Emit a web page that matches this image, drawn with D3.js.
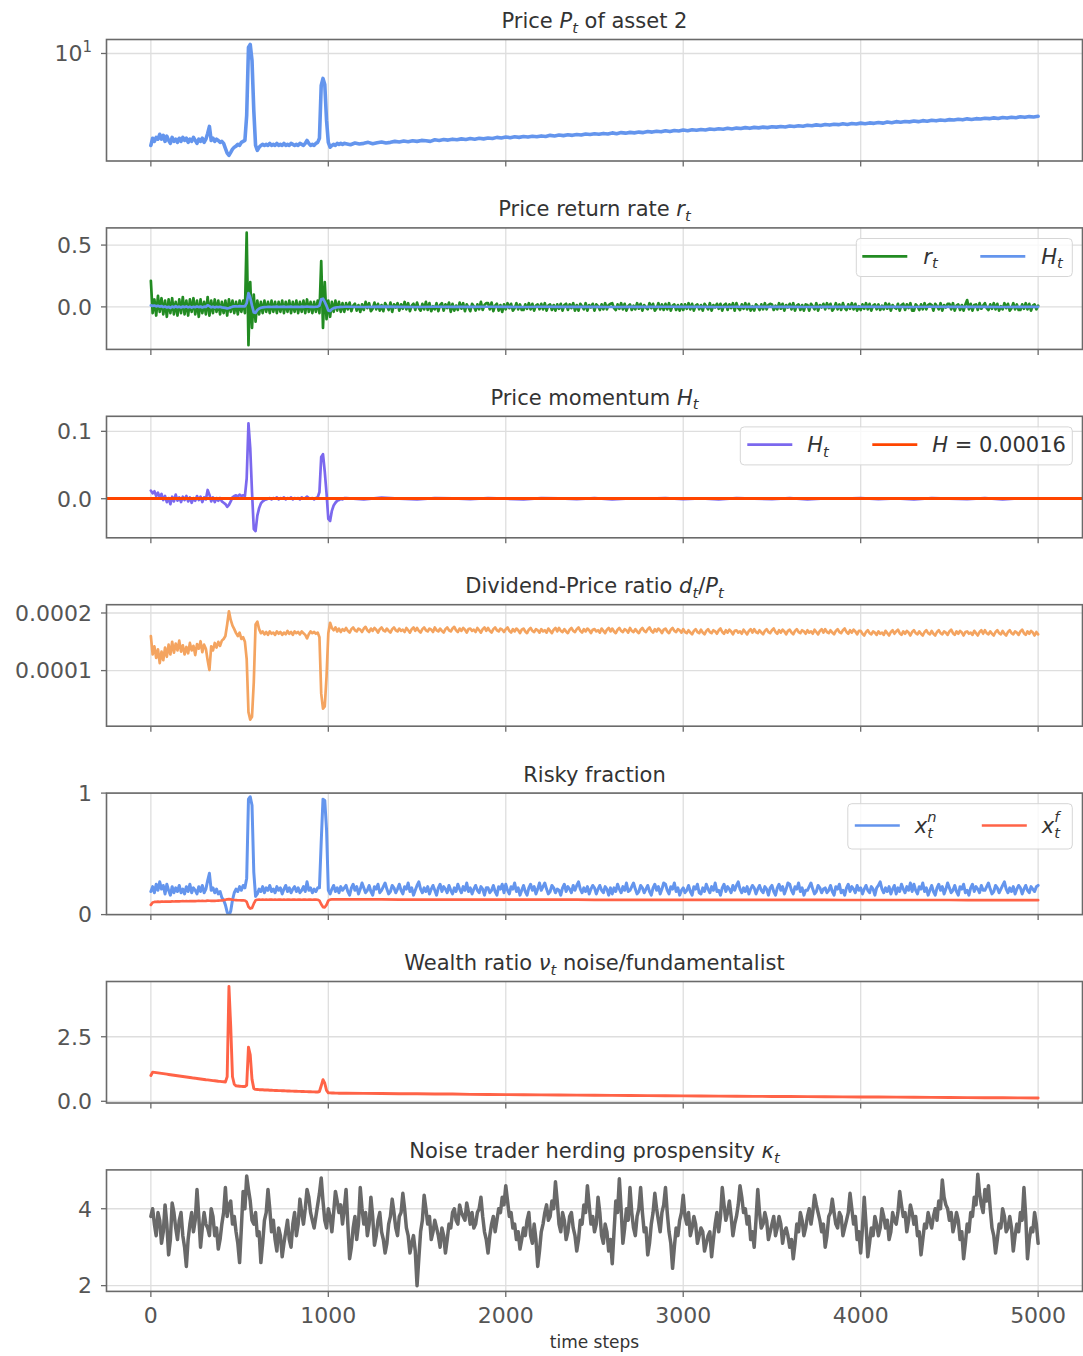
<!DOCTYPE html>
<html>
<head>
<meta charset="utf-8">
<script src="https://cdn.jsdelivr.net/npm/d3@7"></script>
<style>
  body { margin: 0; background: #fff; }
  svg text { font-family: "DejaVu Sans", sans-serif; }
</style>
</head>
<body>
<svg id="fig" width="1083" height="1356"></svg>
<script>
// ---- time grids -------------------------------------------------------
const earlySteps  = d3.range(0, 1100, 10);     // 0 .. 1090
const lateSteps   = d3.range(1100, 5001, 25);  // 1100 .. 5000
const denseSteps  = d3.range(1100, 5001, 10);  // 1100 .. 5000
const coarseSteps = d3.range(1100, 5001, 100); // 1100 .. 5000
const kappaSteps  = d3.range(0, 5001, 20);     // 0, 20, .. 5000
const kappaMidSteps = d3.range(10, 5000, 20);  // 10, 30, .. 4990
const xTickValues = [0, 1000, 2000, 3000, 4000, 5000];

// ---- price P_t of asset 2 --------------------------------------------
const priceEarly = [
  1.25,1.47,1.37,1.50,1.44,1.61,1.44,1.57,1.37,1.54,
  1.40,1.31,1.50,1.37,1.44,1.34,1.47,1.37,1.50,1.40,
  1.47,1.34,1.44,1.37,1.50,1.40,1.31,1.44,1.37,1.47,
  1.34,1.44,1.64,1.92,1.40,1.47,1.37,1.44,1.40,1.34,
  1.37,1.31,1.17,1.05,1.00,1.07,1.15,1.20,1.23,1.28,
  1.25,1.34,1.37,1.40,2.47,11.45,12.25,8.54,2.76,1.25,
  1.12,1.20,1.25,1.28,1.25,1.28,1.25,1.31,1.25,1.28,
  1.25,1.31,1.25,1.28,1.25,1.31,1.25,1.28,1.25,1.31,
  1.28,1.25,1.28,1.25,1.31,1.28,1.25,1.31,1.40,1.31,
  1.25,1.28,1.25,1.31,1.34,1.47,4.86,5.69,4.97,2.20,
  1.34,1.20,1.25,1.28,1.25,1.31,1.28,1.31,1.28,1.31
];
const priceLate = [
  1.30,1.27,1.32,1.29, 1.31,1.34,1.30,1.33, 1.35,1.32,1.34,1.37, 1.35,1.38,1.36,1.39,
  1.37,1.40,1.39,1.37, 1.42,1.40,1.43,1.41, 1.44,1.42,1.45,1.43, 1.46,1.44,1.47,1.45,
  1.48,1.46,1.50,1.48, 1.51,1.49,1.52,1.50, 1.53,1.51,1.54,1.52, 1.55,1.53,1.57,1.55,
  1.58,1.56,1.59,1.57, 1.60,1.58,1.62,1.60, 1.63,1.61,1.64,1.62, 1.66,1.63,1.67,1.65,
  1.68,1.66,1.69,1.67, 1.71,1.69,1.72,1.70, 1.74,1.71,1.75,1.73, 1.77,1.74,1.78,1.76,
  1.79,1.77,1.81,1.79, 1.82,1.80,1.84,1.81, 1.85,1.83,1.87,1.84, 1.88,1.86,1.89,1.87,
  1.91,1.89,1.92,1.90, 1.94,1.92,1.95,1.93, 1.97,1.95,1.99,1.96, 2.01,1.98,2.02,2.00,
  2.04,2.01,2.05,2.03, 2.07,2.04,2.08,2.06, 2.10,2.07,2.12,2.09, 2.14,2.11,2.15,2.13,
  2.17,2.14,2.19,2.16, 2.21,2.18,2.22,2.20, 2.24,2.22,2.26,2.23, 2.28,2.25,2.29,2.27,
  2.31,2.29,2.33,2.30, 2.35,2.32,2.36,2.34, 2.39,2.36,2.40,2.38, 2.42
];

// ---- price return rate r_t -------------------------------------------
const returnEarly = [
  0.21,-0.05,0.06,-0.07,0.09,-0.04,0.07,-0.06,0.05,-0.08,
  0.06,-0.05,0.07,-0.06,0.04,-0.07,0.06,-0.05,0.08,-0.06,
  0.05,-0.07,0.06,-0.04,0.07,-0.06,0.05,-0.08,0.06,-0.05,
  0.04,-0.06,0.08,-0.07,0.05,-0.05,0.06,-0.04,0.05,-0.06,
  0.04,-0.05,0.05,-0.07,0.06,-0.04,0.05,-0.05,0.04,-0.06,
  0.05,-0.04,0.05,-0.05,0.60,-0.31,0.20,-0.17,0.10,-0.12,
  0.05,-0.06,0.04,-0.05,0.05,-0.04,0.04,-0.05,0.05,-0.04,
  0.04,-0.05,0.04,-0.04,0.05,-0.05,0.04,-0.04,0.05,-0.05,
  0.04,-0.04,0.05,-0.05,0.04,-0.04,0.05,-0.05,0.06,-0.04,
  0.04,-0.05,0.04,-0.04,0.05,-0.05,0.37,-0.17,0.20,-0.10,
  0.05,-0.08,0.04,-0.04,0.05,-0.03,0.04,-0.04,0.03,-0.04
];
const returnLate = [
  0.03,-0.02,0.035,-0.035,0.01,0.025,-0.03,0.015,-0.04,0.02,
  -0.025,0.04,-0.01,0.03,-0.035,-0.015,0.035,-0.02,0.025,-0.03,
  0.015,-0.035,0.03,0.005,-0.025,0.035,-0.04,0.02,-0.005,0.03,
  -0.03,0.02,-0.015,0.04,-0.02,0.03,-0.035,0.01,0.025,-0.025,
  0.035,-0.01,-0.03,0.025,-0.02,0.04,-0.025,0.03,-0.035,0.005,
  -0.02,0.03,-0.035,0.015,0.03,-0.03,0.02,-0.01,0.035,-0.04,
  0.025,-0.03,0.01,-0.025,0.035,-0.015,0.03,-0.035,0.02,-0.005,
  -0.035,0.025,0.005,-0.03,0.02,-0.02,0.04,-0.025,0.015,0.03,
  0.03,-0.02,0.035,-0.035,0.01,0.025,-0.03,0.015,-0.04,0.02,
  -0.02,0.03,-0.01,0.025,-0.03,-0.01,0.03,-0.02,0.02,-0.025,
  -0.025,0.02,-0.015,0.03,-0.02,0.025,-0.03,0.01,0.02,-0.02,
  0.025,-0.02,0.03,-0.03,0.01,0.02,-0.025,0.015,-0.03,0.02,
  -0.015,0.025,-0.03,0.015,0.025,-0.025,0.02,-0.01,0.03,-0.03,
  0.015,-0.03,0.025,0.005,-0.02,0.03,-0.03,0.015,-0.005,0.025,
  -0.03,0.02,0.005,-0.025,0.02,-0.02,0.03,-0.02,0.015,0.025,
  0.03,-0.01,-0.025,0.02,-0.015,0.03,-0.02,0.025,-0.03,0.005,
  0.02,-0.025,0.01,-0.02,0.03,-0.015,0.025,-0.03,0.015,-0.005,
  -0.02,0.03,-0.01,0.025,-0.03,-0.01,0.03,-0.02,0.02,-0.025,
  0.025,-0.02,0.03,-0.03,0.01,0.02,-0.025,0.015,-0.03,0.02,
  -0.025,0.02,-0.015,0.03,-0.02,0.025,-0.03,0.01,0.02,-0.02,
  0.015,-0.03,0.025,0.005,-0.02,0.03,-0.03,0.015,-0.005,0.025,
  -0.015,0.025,-0.03,0.015,0.025,-0.025,0.02,-0.01,0.03,-0.03,
  0.03,-0.01,-0.025,0.02,-0.015,0.03,-0.02,0.025,-0.03,0.005,
  -0.03,0.02,0.005,-0.025,0.02,-0.02,0.03,-0.02,0.015,0.025,
  0.02,-0.025,0.01,-0.02,0.03,-0.015,0.025,-0.03,0.015,-0.005,
  0.025,-0.02,0.03,-0.03,0.01,0.02,-0.025,0.015,-0.03,0.02,
  0.015,-0.03,0.025,0.005,-0.02,0.03,-0.03,0.015,-0.005,0.025,
  -0.02,0.03,-0.01,0.025,-0.03,-0.01,0.03,-0.02,0.02,-0.025,
  0.03,-0.01,-0.025,0.02,-0.015,0.03,-0.02,0.025,-0.03,0.005,
  -0.025,0.02,-0.015,0.03,-0.02,0.025,-0.03,0.01,0.02,-0.02,
  0.02,-0.025,0.01,-0.02,0.03,-0.015,0.025,-0.03,0.015,-0.005,
  -0.015,0.025,-0.03,0.015,0.025,-0.025,0.02,-0.01,0.03,-0.03,
  -0.03,0.02,0.005,-0.025,0.02,-0.02,0.03,-0.02,0.015,0.025,
  0.015,-0.03,0.025,0.005,-0.02,0.03,-0.03,0.015,-0.005,0.025,
  0.025,-0.02,0.03,-0.03,0.01,0.02,-0.025,0.015,-0.03,0.02,
  0.055,-0.02,0.025,-0.03,0.015,0.02,-0.025,0.03,-0.015,0.01,
  0.03,-0.01,-0.025,0.02,-0.015,0.03,-0.02,0.025,-0.03,0.005,
  -0.02,0.03,-0.01,0.025,-0.03,-0.01,0.03,-0.02,0.02,-0.025,
  -0.025,0.02,-0.015,0.03,-0.02,0.025,-0.03,0.01,0.02,-0.02,
  0.01
];

// ---- price momentum H_t ----------------------------------------------
const momentumEarly = [
  0.012,0.008,0.011,0.004,0.009,0.002,0.007,-0.002,0.004,-0.005,
  0.001,-0.008,0.003,-0.004,0.006,-0.003,0.002,-0.005,0.003,-0.002,
  0.004,-0.004,0.002,-0.006,0.001,-0.003,0.004,-0.002,0.003,-0.005,
  0.002,-0.001,0.013,0.006,-0.004,0.002,-0.005,0.001,-0.003,0.001,
  -0.004,-0.006,-0.008,-0.012,-0.009,-0.004,0.002,0.004,0.005,0.003,
  0.006,0.004,0.005,0.004,0.030,0.112,0.075,0.010,-0.045,-0.048,
  -0.025,-0.014,-0.007,-0.004,-0.002,-0.001,0.000,0.001,-0.001,0.001,
  0.000,0.002,-0.001,0.001,0.000,0.002,-0.001,0.001,0.000,0.002,
  -0.001,0.001,0.000,0.001,-0.001,0.002,0.000,0.001,0.003,0.001,
  0.000,0.001,-0.001,0.001,0.002,0.010,0.062,0.066,0.040,0.008,
  -0.030,-0.033,-0.018,-0.010,-0.006,-0.003,-0.002,0.000,-0.001,0.001
];
const momentumLate = [
  0.001,-0.001,0.0015,0.0,-0.001,0.001,0.0005,-0.0005,0.001,0.0,
  -0.001,0.001,0.0005,-0.0005,0.001,-0.001,0.0005,0.0,0.001,-0.0005,
  0.0005,-0.001,0.001,0.0,-0.0005,0.001,-0.001,0.0005,0.0,0.001,
  -0.0005,0.0005,-0.001,0.001,0.0,-0.0005,0.001,-0.001,0.0005,0.0005
];
const momentumLevel = 0.00016;

// ---- dividend-price ratio d_t/P_t (values in units of 1e-4) ----------
const dpEarlyE4 = [
  1.60,1.28,1.42,1.22,1.37,1.13,1.33,1.18,1.40,1.24,
  1.45,1.28,1.50,1.31,1.47,1.35,1.52,1.33,1.44,1.28,
  1.41,1.30,1.48,1.35,1.43,1.27,1.46,1.38,1.51,1.32,
  1.45,1.38,1.18,1.01,1.42,1.35,1.48,1.40,1.50,1.43,
  1.52,1.55,1.60,1.80,2.03,1.88,1.78,1.72,1.65,1.60,
  1.66,1.55,1.58,1.50,1.20,0.28,0.15,0.20,0.80,1.80,
  1.85,1.72,1.65,1.68,1.63,1.67,1.62,1.68,1.64,1.66,
  1.62,1.68,1.64,1.67,1.62,1.66,1.63,1.69,1.64,1.67,
  1.62,1.68,1.65,1.67,1.63,1.68,1.65,1.62,1.56,1.63,
  1.68,1.65,1.67,1.64,1.66,1.58,0.60,0.34,0.38,0.90,
  1.65,1.83,1.74,1.70,1.75,1.68,1.73,1.67,1.72,1.69
];
const dpLateE4 = [
  1.74,1.69,1.66,1.72,1.75,1.70,1.68,1.73,1.71,1.67,
  1.73,1.76,1.70,1.67,1.73,1.69,1.74,1.71,1.66,1.72,
  1.75,1.70,1.68,1.73,1.69,1.66,1.72,1.75,1.70,1.68,
  1.73,1.69,1.71,1.67,1.74,1.70,1.66,1.72,1.75,1.69,
  1.74,1.69,1.66,1.72,1.75,1.70,1.68,1.73,1.71,1.67,
  1.75,1.70,1.68,1.73,1.69,1.66,1.72,1.75,1.70,1.68,
  1.73,1.76,1.70,1.67,1.73,1.69,1.74,1.71,1.66,1.72,
  1.73,1.69,1.71,1.67,1.74,1.70,1.66,1.72,1.75,1.69,
  1.74,1.69,1.66,1.72,1.75,1.70,1.68,1.73,1.71,1.67,
  1.72,1.75,1.69,1.66,1.72,1.68,1.73,1.70,1.65,1.71,
  1.73,1.68,1.65,1.71,1.74,1.69,1.67,1.72,1.70,1.66,
  1.72,1.68,1.70,1.66,1.73,1.69,1.65,1.71,1.74,1.68,
  1.74,1.69,1.67,1.72,1.68,1.65,1.71,1.74,1.69,1.67,
  1.72,1.75,1.69,1.66,1.72,1.68,1.73,1.70,1.65,1.71,
  1.72,1.68,1.70,1.66,1.73,1.69,1.65,1.71,1.74,1.68,
  1.73,1.68,1.65,1.71,1.74,1.69,1.67,1.72,1.70,1.66,
  1.74,1.69,1.67,1.72,1.68,1.65,1.71,1.74,1.69,1.67,
  1.72,1.75,1.69,1.66,1.72,1.68,1.73,1.70,1.65,1.71,
  1.73,1.68,1.65,1.71,1.74,1.69,1.67,1.72,1.70,1.66,
  1.72,1.67,1.65,1.70,1.66,1.63,1.69,1.72,1.67,1.65,
  1.71,1.66,1.63,1.69,1.72,1.67,1.65,1.70,1.68,1.64,
  1.70,1.73,1.67,1.64,1.70,1.66,1.71,1.68,1.63,1.69,
  1.70,1.66,1.68,1.64,1.71,1.67,1.63,1.69,1.72,1.66,
  1.72,1.67,1.65,1.70,1.66,1.63,1.69,1.72,1.67,1.65,
  1.70,1.73,1.67,1.64,1.70,1.66,1.71,1.68,1.63,1.69,
  1.71,1.66,1.63,1.69,1.72,1.67,1.65,1.70,1.68,1.64,
  1.70,1.66,1.68,1.64,1.71,1.67,1.63,1.69,1.72,1.66,
  1.72,1.67,1.65,1.70,1.66,1.63,1.69,1.72,1.67,1.65,
  1.70,1.73,1.67,1.64,1.70,1.66,1.71,1.68,1.63,1.69,
  1.69,1.64,1.61,1.67,1.70,1.65,1.63,1.68,1.66,1.62,
  1.68,1.64,1.66,1.62,1.69,1.65,1.61,1.67,1.70,1.64,
  1.68,1.71,1.65,1.62,1.68,1.64,1.69,1.66,1.61,1.67,
  1.70,1.65,1.63,1.68,1.64,1.61,1.67,1.70,1.65,1.63,
  1.69,1.64,1.61,1.67,1.70,1.65,1.63,1.68,1.66,1.62,
  1.68,1.71,1.65,1.62,1.68,1.64,1.69,1.66,1.61,1.67,
  1.68,1.64,1.66,1.62,1.69,1.65,1.61,1.67,1.70,1.64,
  1.70,1.65,1.63,1.68,1.64,1.61,1.67,1.70,1.65,1.63,
  1.69,1.64,1.61,1.67,1.70,1.65,1.63,1.68,1.66,1.62,
  1.68,1.71,1.65,1.62,1.68,1.64,1.69,1.66,1.61,1.67,
  1.63
];

// ---- risky fraction: noise traders x^n, fundamentalists x^f ----------
const xNoiseEarly = [
  0.19,0.23,0.18,0.25,0.20,0.27,0.21,0.24,0.17,0.25,
  0.20,0.16,0.23,0.18,0.22,0.19,0.24,0.18,0.21,0.17,
  0.23,0.19,0.25,0.18,0.22,0.20,0.17,0.23,0.19,0.24,
  0.18,0.21,0.28,0.34,0.20,0.22,0.18,0.21,0.17,0.19,
  0.14,0.12,0.08,0.02,-0.01,0.03,0.12,0.18,0.21,0.19,
  0.23,0.20,0.24,0.22,0.30,0.95,0.97,0.90,0.35,0.15,
  0.17,0.21,0.19,0.23,0.18,0.22,0.20,0.24,0.19,0.21,
  0.18,0.23,0.20,0.22,0.17,0.21,0.24,0.19,0.22,0.18,
  0.21,0.23,0.19,0.22,0.18,0.20,0.23,0.19,0.27,0.20,
  0.22,0.18,0.21,0.19,0.22,0.22,0.60,0.95,0.94,0.70,
  0.20,0.17,0.21,0.24,0.19,0.22,0.18,0.23,0.20,0.22
];
const xNoiseLate = [
  0.24,0.19,0.16,0.22,0.25,0.20,0.23,0.17,0.21,0.26,
  0.22,0.18,0.20,0.24,0.19,0.16,0.23,0.21,0.25,0.18,
  0.20,0.23,0.26,0.21,0.17,0.19,0.24,0.22,0.18,0.21,
  0.25,0.20,0.17,0.23,0.21,0.26,0.19,0.22,0.16,0.20,
  0.24,0.27,0.21,0.18,0.22,0.19,0.23,0.17,0.21,0.24,
  0.20,0.16,0.22,0.25,0.19,0.23,0.21,0.18,0.24,0.20,
  0.17,0.22,0.19,0.25,0.21,0.18,0.23,0.20,0.26,0.19,
  0.22,0.17,0.21,0.24,0.20,0.18,0.23,0.21,0.16,0.22,
  0.22,0.18,0.20,0.24,0.19,0.16,0.23,0.21,0.25,0.18,
  0.25,0.20,0.17,0.23,0.21,0.26,0.19,0.22,0.16,0.20,
  0.24,0.19,0.16,0.22,0.25,0.20,0.23,0.17,0.21,0.26,
  0.20,0.23,0.26,0.21,0.17,0.19,0.24,0.22,0.18,0.21,
  0.20,0.16,0.22,0.25,0.19,0.23,0.21,0.18,0.24,0.20,
  0.24,0.27,0.21,0.18,0.22,0.19,0.23,0.17,0.21,0.24,
  0.22,0.17,0.21,0.24,0.20,0.18,0.23,0.21,0.16,0.22,
  0.17,0.22,0.19,0.25,0.21,0.18,0.23,0.20,0.26,0.19,
  0.20,0.23,0.26,0.21,0.17,0.19,0.24,0.22,0.18,0.21,
  0.24,0.19,0.16,0.22,0.25,0.20,0.23,0.17,0.21,0.26,
  0.25,0.20,0.17,0.23,0.21,0.26,0.19,0.22,0.16,0.20,
  0.22,0.18,0.20,0.24,0.19,0.16,0.23,0.21,0.25,0.18,
  0.17,0.22,0.19,0.25,0.21,0.18,0.23,0.20,0.26,0.19,
  0.20,0.16,0.22,0.25,0.19,0.23,0.21,0.18,0.24,0.20,
  0.24,0.27,0.21,0.18,0.22,0.19,0.23,0.17,0.21,0.24,
  0.22,0.17,0.21,0.24,0.20,0.18,0.23,0.21,0.16,0.22,
  0.24,0.19,0.16,0.22,0.25,0.20,0.23,0.17,0.21,0.26,
  0.25,0.20,0.17,0.23,0.21,0.26,0.19,0.22,0.16,0.20,
  0.20,0.23,0.26,0.21,0.17,0.19,0.24,0.22,0.18,0.21,
  0.22,0.18,0.20,0.24,0.19,0.16,0.23,0.21,0.25,0.18,
  0.20,0.16,0.22,0.25,0.19,0.23,0.21,0.18,0.24,0.20,
  0.22,0.17,0.21,0.24,0.20,0.18,0.23,0.21,0.16,0.22,
  0.24,0.27,0.21,0.18,0.22,0.19,0.23,0.17,0.21,0.24,
  0.17,0.22,0.19,0.25,0.21,0.18,0.23,0.20,0.26,0.19,
  0.25,0.20,0.17,0.23,0.21,0.26,0.19,0.22,0.16,0.20,
  0.24,0.19,0.16,0.22,0.25,0.20,0.23,0.17,0.21,0.26,
  0.22,0.18,0.20,0.24,0.19,0.16,0.23,0.21,0.25,0.18,
  0.20,0.16,0.22,0.25,0.19,0.23,0.21,0.18,0.24,0.20,
  0.20,0.23,0.26,0.21,0.17,0.19,0.24,0.22,0.18,0.21,
  0.24,0.27,0.21,0.18,0.22,0.19,0.23,0.17,0.21,0.24,
  0.22,0.17,0.21,0.24,0.20,0.18,0.23,0.21,0.19,0.23,
  0.24
];
const xFundEarly = [
  0.080,0.100,0.104,0.105,0.106,0.105,0.107,0.106,0.108,0.107,
  0.108,0.107,0.109,0.108,0.109,0.110,0.109,0.110,0.111,0.110,
  0.111,0.110,0.112,0.111,0.112,0.111,0.112,0.113,0.112,0.113,
  0.112,0.113,0.115,0.114,0.113,0.114,0.113,0.114,0.115,0.116,
  0.117,0.119,0.122,0.125,0.127,0.125,0.122,0.120,0.119,0.118,
  0.118,0.117,0.117,0.116,0.105,0.065,0.050,0.055,0.090,0.118,
  0.122,0.123,0.122,0.123,0.122,0.123,0.122,0.123,0.123,0.122,
  0.123,0.122,0.123,0.123,0.122,0.123,0.122,0.123,0.123,0.122,
  0.123,0.123,0.122,0.123,0.123,0.122,0.123,0.123,0.122,0.123,
  0.123,0.122,0.123,0.123,0.122,0.115,0.085,0.062,0.060,0.080,
  0.115,0.124,0.125,0.125,0.125,0.125,0.125,0.125,0.125,0.125
];
const xFundLate = [
  0.125,0.125,0.125,0.124,0.124,0.124,0.124,0.124,0.123,0.123,
  0.123,0.123,0.123,0.123,0.122,0.122,0.122,0.122,0.122,0.122,
  0.122,0.121,0.121,0.121,0.121,0.121,0.121,0.121,0.120,0.120,
  0.120,0.120,0.120,0.120,0.120,0.119,0.119,0.119,0.119,0.119
];

// ---- wealth ratio nu_t (noise / fundamentalist) ----------------------
const wealthEarly = [
  1.00,1.13,1.12,1.11,1.10,1.09,1.08,1.07,1.06,1.05,
  1.04,1.03,1.02,1.01,1.00,0.99,0.98,0.97,0.96,0.95,
  0.94,0.93,0.92,0.91,0.90,0.895,0.885,0.875,0.865,0.855,
  0.845,0.835,0.83,0.82,0.81,0.80,0.795,0.785,0.775,0.77,
  0.76,0.755,0.75,0.95,4.45,2.90,0.95,0.66,0.60,0.59,
  0.585,0.58,0.575,0.575,0.62,2.10,1.80,0.85,0.50,0.46,
  0.455,0.45,0.45,0.445,0.44,0.44,0.435,0.43,0.43,0.425,
  0.42,0.42,0.415,0.415,0.41,0.41,0.405,0.40,0.40,0.395,
  0.395,0.39,0.39,0.385,0.385,0.38,0.38,0.375,0.375,0.37,
  0.37,0.365,0.365,0.36,0.36,0.38,0.60,0.84,0.70,0.42,
  0.33,0.325,0.32,0.32,0.318,0.316,0.314,0.312,0.31,0.31
];
const wealthLate = [
  0.31,0.305,0.30,0.295,0.29,0.285,0.28,0.27,0.265,0.26,
  0.255,0.25,0.245,0.24,0.235,0.23,0.225,0.22,0.215,0.21,
  0.205,0.20,0.196,0.192,0.188,0.184,0.18,0.176,0.172,0.168,
  0.164,0.16,0.156,0.152,0.148,0.144,0.14,0.136,0.132,0.128
];

// ---- noise trader herding propensity kappa_t -------------------------
const kappa = [
  3.8,3.6,3.9,3.1,4.1,2.8,4.15,3.5,3.7,3.3,
  2.5,3.6,3.4,4.5,3.0,3.9,3.5,4.0,3.3,2.95,
  3.6,4.55,4.1,3.6,3.4,2.6,4.45,4.85,4.2,3.6,
  3.3,2.6,3.7,4.5,3.4,3.2,3.5,2.75,3.4,3.2,
  3.6,3.3,4.25,3.6,4.5,3.9,3.5,4.1,4.8,3.7,
  4.0,3.4,4.45,3.9,3.6,4.5,2.7,3.5,3.2,4.55,
  3.6,3.3,4.3,3.05,3.7,3.4,2.85,3.6,4.25,3.5,
  3.8,4.4,3.5,2.85,3.3,2.0,3.4,4.35,3.6,3.2,
  3.7,3.3,3.5,2.85,3.6,3.9,3.7,4.1,3.8,4.15,
  3.6,3.5,3.9,4.3,3.4,2.85,3.6,3.4,4.0,4.3,
  4.6,3.8,3.5,3.2,2.95,3.5,3.7,3.3,3.6,2.5,
  3.4,3.9,3.7,4.2,4.7,3.6,3.9,3.2,3.8,3.5,
  2.9,3.7,4.1,4.6,3.6,3.4,4.3,3.3,3.6,2.9,
  2.57,4.2,4.78,3.1,4.0,4.55,3.5,3.8,4.55,3.4,
  2.8,3.6,4.4,3.7,3.9,4.55,3.4,2.45,3.5,3.7,
  4.35,3.6,3.3,3.8,3.1,3.5,2.9,3.3,2.75,3.6,
  3.4,4.55,3.7,4.2,3.3,3.8,4.6,3.9,3.6,3.2,
  3.0,4.5,3.5,3.9,3.2,3.6,3.3,3.8,3.1,3.5,
  3.0,2.7,3.6,3.9,3.3,3.8,3.6,4.35,3.9,3.4,
  3.0,3.8,4.25,3.6,3.9,3.3,3.7,4.4,3.6,3.2,
  2.85,4.3,2.75,3.5,3.8,3.3,4.0,3.5,3.2,3.9,
  3.6,4.45,3.8,3.4,4.1,3.6,3.3,2.8,3.6,3.9,
  3.5,4.0,4.2,4.75,4.1,3.7,3.4,3.9,3.2,2.7,
  3.6,3.9,4.3,4.9,4.1,4.5,4.6,3.5,2.85,3.6,
  4.0,3.4,3.8,2.9,3.6,3.9,4.55,2.7,3.5,3.9,
  3.1
];
const kappaMid = [
  4.0,3.3,3.7,3.4,3.6,3.2,3.9,3.2,3.9,3.0,
  3.2,3.9,3.7,3.8,3.5,3.6,3.3,3.8,3.5,3.2,
  3.9,3.8,4.2,3.8,3.1,3.5,4.0,4.5,3.7,3.9,
  3.4,3.1,3.9,4.0,3.7,2.9,3.3,3.1,3.7,3.0,
  3.9,3.6,3.9,4.0,4.3,3.7,3.8,4.4,4.2,3.5,
  3.8,3.9,4.2,4.1,4.0,3.6,3.0,3.8,3.6,4.0,
  3.9,3.6,3.8,3.3,3.9,3.2,3.1,3.8,3.9,3.3,
  3.9,4.0,3.3,3.1,2.9,2.7,3.7,4.0,3.8,3.4,
  3.5,3.0,3.3,3.2,3.5,4.0,3.6,3.9,3.7,3.9,
  3.9,3.6,4.0,3.8,3.2,3.3,3.8,3.7,3.9,4.1,
  4.2,3.9,3.6,3.4,3.2,3.3,3.9,3.1,3.2,2.9,
  3.6,4.1,3.8,4.0,4.2,3.4,3.7,3.4,3.9,3.3,
  3.2,3.6,3.9,4.1,3.8,3.6,3.9,3.1,3.4,3.2,
  3.4,3.9,4.0,3.5,3.7,3.9,3.3,4.0,3.9,3.5,
  3.1,3.9,4.0,3.4,4.1,3.9,3.1,3.0,3.3,3.9,
  3.8,3.9,3.5,3.6,3.3,3.4,3.1,3.4,3.2,3.9,
  3.8,4.1,3.9,3.8,3.6,4.1,4.3,4.0,3.8,3.4,
  3.7,3.9,3.6,3.7,3.4,3.8,3.5,3.6,3.4,3.3,
  3.2,3.1,3.4,3.7,3.5,4.0,3.9,4.1,3.7,3.6,
  3.3,3.9,3.9,3.5,3.8,3.5,3.9,4.0,3.8,3.4,
  3.5,3.6,3.1,3.3,3.6,3.5,3.8,3.7,3.4,3.7,
  3.9,4.1,3.9,3.7,3.9,3.8,3.4,3.2,3.5,3.7,
  3.8,3.7,4.0,4.3,4.0,3.9,3.6,3.7,3.4,3.1,
  3.4,3.8,4.1,4.4,3.9,4.2,4.0,3.3,3.2,3.5,
  3.8,3.5,3.5,3.3,3.4,3.7,3.8,3.2,3.4,3.6
];

// ---- assemble series ---------------------------------------------------
const zip = (steps, vals) => steps.map((t, i) => [t, vals[i]]);
const byStep = (a, b) => a[0] - b[0];
const priceSeries    = zip(earlySteps, priceEarly).concat(zip(lateSteps, priceLate));
const returnSeries   = zip(earlySteps, returnEarly).concat(zip(denseSteps, returnLate));
const momentumSeries = zip(earlySteps, momentumEarly).concat(zip(coarseSteps, momentumLate));
const dpSeries       = zip(earlySteps, dpEarlyE4).concat(zip(denseSteps, dpLateE4))
                         .map(([t, v]) => [t, v * 1e-4]);
const xNoiseSeries   = zip(earlySteps, xNoiseEarly).concat(zip(denseSteps, xNoiseLate));
const xFundSeries    = zip(earlySteps, xFundEarly).concat(zip(coarseSteps, xFundLate));
const wealthSeries   = zip(earlySteps, wealthEarly).concat(zip(coarseSteps, wealthLate));
const kappaSeries    = zip(kappaSteps, kappa).concat(zip(kappaMidSteps, kappaMid)).sort(byStep);

// ---- layout -------------------------------------------------------------
const svg = d3.select('#fig');
const LEFT = 106.5, RIGHT = 1082.5;
const PANEL_H = 121.5;
const panelTop = i => 39.5 + 188.4 * i;
const x = d3.scaleLinear().domain([-250, 5250]).range([LEFT, RIGHT]);

const SPINE = '#6a6a6a', GRID = '#dedede', TICK_TXT = '#555', TITLE_TXT = '#333';
const LW = 2.7;

svg.append('rect').attr('width', 1083).attr('height', 1356).attr('fill', '#fff');

// rich text with italic / sub / sup parts (mathtext-like)
function richText(textSel, parts, size) {
  let shift = 0;
  let prev = null;
  parts.forEach(p => {
    const ts = textSel.append('tspan').text(p.t);
    if (p.i) ts.attr('font-style', 'italic');
    let target = 0;
    if (p.sub) target = size * 0.22;
    if (p.sup) target = -size * 0.5;
    if (p.sub || p.sup) ts.attr('font-size', size * 0.7);
    if (target !== shift) { ts.attr('dy', target - shift); shift = target; }
    if (p.back && prev) ts.attr('dx', -prev.node().getComputedTextLength());
    prev = ts;
  });
}

const panels = [
  {
    title: [{t: 'Price '}, {t: 'P', i: true}, {t: 't', i: true, sub: true}, {t: ' of asset 2'}],
    y: d3.scaleLog().domain([0.879, 13.72]),
    ticks: [10], log: true,
    lines: [{data: priceSeries, color: '#6495ED', w: 3.6}]
  },
  {
    title: [{t: 'Price return rate '}, {t: 'r', i: true}, {t: 't', i: true, sub: true}],
    y: d3.scaleLinear().domain([-0.344, 0.639]),
    ticks: [0, 0.5], fmt: d3.format('.1f'),
    lines: [{data: returnSeries, color: '#228B22'}, {data: momentumSeries, color: '#6495ED'}],
    legend: {w: 216, h: 38, ly: 28.4, items: [
      {x1: 6, x2: 51, tx: 67, color: '#228B22', label: [{t: 'r', i: true}, {t: 't', i: true, sub: true}]},
      {x1: 124, x2: 169, tx: 185, color: '#6495ED', label: [{t: 'H', i: true}, {t: 't', i: true, sub: true}]}
    ]}
  },
  {
    title: [{t: 'Price momentum '}, {t: 'H', i: true}, {t: 't', i: true, sub: true}],
    y: d3.scaleLinear().domain([-0.058, 0.1223]),
    ticks: [0, 0.1], fmt: d3.format('.1f'),
    lines: [{data: momentumSeries, color: '#7B68EE'}],
    hline: {value: momentumLevel, color: '#FF4500'},
    legend: {w: 332, h: 38, ly: 28.3, items: [
      {x1: 7, x2: 52, tx: 67, color: '#7B68EE', label: [{t: 'H', i: true}, {t: 't', i: true, sub: true}]},
      {x1: 132, x2: 177, tx: 192, color: '#FF4500', label: [{t: 'H', i: true}, {t: ' = 0.00016'}]}
    ]}
  },
  {
    title: [{t: 'Dividend-Price ratio '}, {t: 'd', i: true}, {t: 't', i: true, sub: true},
            {t: '/'}, {t: 'P', i: true}, {t: 't', i: true, sub: true}],
    y: d3.scaleLinear().domain([0.0000035, 0.0002144]),
    ticks: [0.0001, 0.0002], fmt: d3.format('.4f'),
    lines: [{data: dpSeries, color: '#F4A460'}]
  },
  {
    title: [{t: 'Risky fraction'}],
    y: d3.scaleLinear().domain([0, 1]),
    ticks: [0, 1], fmt: d3.format('d'),
    lines: [{data: xNoiseSeries, color: '#6495ED', w: 3.0}, {data: xFundSeries, color: '#FF6347'}],
    legend: {w: 224.5, h: 45.3, ly: 32.4, items: [
      {x1: 7, x2: 52, tx: 67, color: '#6495ED', label: [{t: 'x', i: true}, {t: 'n', i: true, sup: true}, {t: 't', i: true, sub: true, back: true}]},
      {x1: 134, x2: 179, tx: 194, color: '#FF6347', label: [{t: 'x', i: true}, {t: 'f', i: true, sup: true}, {t: 't', i: true, sub: true, back: true}]}
    ]}
  },
  {
    title: [{t: 'Wealth ratio '}, {t: 'ν', i: true}, {t: 't', i: true, sub: true}, {t: ' noise/fundamentalist'}],
    y: d3.scaleLinear().domain([-0.066, 4.64]),
    ticks: [0, 2.5], fmt: d3.format('.1f'),
    lines: [{data: wealthSeries, color: '#FF6347', w: 2.9}]
  },
  {
    title: [{t: 'Noise trader herding prospensity '}, {t: 'κ', i: true}, {t: 't', i: true, sub: true}],
    y: d3.scaleLinear().domain([1.85, 5.01]),
    ticks: [2, 4], fmt: d3.format('d'),
    lines: [{data: kappaSeries, color: '#696969', w: 3.5}],
    xLabels: true
  }
];

panels.forEach((p, i) => {
  const top = panelTop(i), bottom = top + PANEL_H;
  const y = p.y.range([bottom, top]);
  const g = svg.append('g');

  // grid
  g.selectAll('.gx').data(xTickValues).join('line')
    .attr('x1', d => x(d)).attr('x2', d => x(d))
    .attr('y1', top).attr('y2', bottom)
    .attr('stroke', GRID).attr('stroke-width', 1.3);
  g.selectAll('.gy').data(p.ticks).join('line')
    .attr('x1', LEFT).attr('x2', RIGHT)
    .attr('y1', d => y(d)).attr('y2', d => y(d))
    .attr('stroke', GRID).attr('stroke-width', 1.3);

  // clip region for data
  const clipId = 'clip' + i;
  svg.append('clipPath').attr('id', clipId).append('rect')
    .attr('x', LEFT).attr('y', top).attr('width', RIGHT - LEFT).attr('height', PANEL_H);
  const plot = g.append('g').attr('clip-path', `url(#${clipId})`);

  const line = d3.line().x(d => x(d[0])).y(d => y(d[1]));
  p.lines.forEach(l => {
    plot.append('path').datum(l.data)
      .attr('d', line)
      .attr('fill', 'none')
      .attr('stroke', l.color)
      .attr('stroke-width', l.w || LW)
      .attr('stroke-linejoin', 'round')
      .attr('stroke-linecap', 'round');
  });
  if (p.hline) {
    plot.append('line')
      .attr('x1', LEFT).attr('x2', RIGHT)
      .attr('y1', y(p.hline.value)).attr('y2', y(p.hline.value))
      .attr('stroke', p.hline.color).attr('stroke-width', LW + 0.3);
  }

  // spines
  g.append('rect')
    .attr('x', LEFT).attr('y', top).attr('width', RIGHT - LEFT).attr('height', PANEL_H)
    .attr('fill', 'none').attr('stroke', SPINE).attr('stroke-width', 1.6);

  // x tick marks
  g.selectAll('.tx').data(xTickValues).join('line')
    .attr('x1', d => x(d)).attr('x2', d => x(d))
    .attr('y1', bottom).attr('y2', bottom + 5.5)
    .attr('stroke', SPINE).attr('stroke-width', 1.3);
  // y tick marks + labels
  g.selectAll('.ty').data(p.ticks).join('line')
    .attr('x1', LEFT - 5.5).attr('x2', LEFT)
    .attr('y1', d => y(d)).attr('y2', d => y(d))
    .attr('stroke', SPINE).attr('stroke-width', 1.3);
  p.ticks.forEach(t => {
    const tx = g.append('text')
      .attr('x', 92).attr('y', y(t) + 7.8)
      .attr('text-anchor', 'end')
      .attr('font-size', 22).attr('fill', TICK_TXT);
    if (p.log) {
      tx.append('tspan').text('10');
      tx.append('tspan').text(Math.round(Math.log10(t))).attr('font-size', 15).attr('dy', -9);
    } else {
      tx.text(p.fmt(t));
    }
  });

  if (p.xLabels) {
    g.selectAll('.xl').data(xTickValues).join('text')
      .attr('x', d => x(d)).attr('y', bottom + 31.5)
      .attr('text-anchor', 'middle')
      .attr('font-size', 22).attr('fill', TICK_TXT)
      .text(d => d);
    g.append('text')
      .attr('x', (LEFT + RIGHT) / 2).attr('y', bottom + 57)
      .attr('text-anchor', 'middle')
      .attr('font-size', 17).attr('fill', TITLE_TXT)
      .text('time steps');
  }

  // title
  const tt = g.append('text')
    .attr('x', (LEFT + RIGHT) / 2).attr('y', top - 11.5)
    .attr('text-anchor', 'middle')
    .attr('font-size', 21).attr('fill', TITLE_TXT);
  richText(tt, p.title, 21);

  // legend
  if (p.legend) {
    const L = p.legend;
    const lx = 1072.3 - L.w, ly = top + 10.6;
    const lg = g.append('g').attr('transform', `translate(${lx},${ly})`);
    lg.append('rect')
      .attr('width', L.w).attr('height', L.h).attr('rx', 4)
      .attr('fill', '#fff').attr('fill-opacity', 0.8)
      .attr('stroke', '#d6d6d6').attr('stroke-width', 1);
    const cy = L.ly - 10.6;
    L.items.forEach(it => {
      lg.append('line')
        .attr('x1', it.x1).attr('x2', it.x2).attr('y1', cy).attr('y2', cy)
        .attr('stroke', it.color).attr('stroke-width', LW);
      const lt = lg.append('text')
        .attr('x', it.tx).attr('y', cy + 7.5)
        .attr('font-size', 21).attr('fill', TITLE_TXT);
      richText(lt, it.label, 21);
    });
  }
});
</script>
</body>
</html>
